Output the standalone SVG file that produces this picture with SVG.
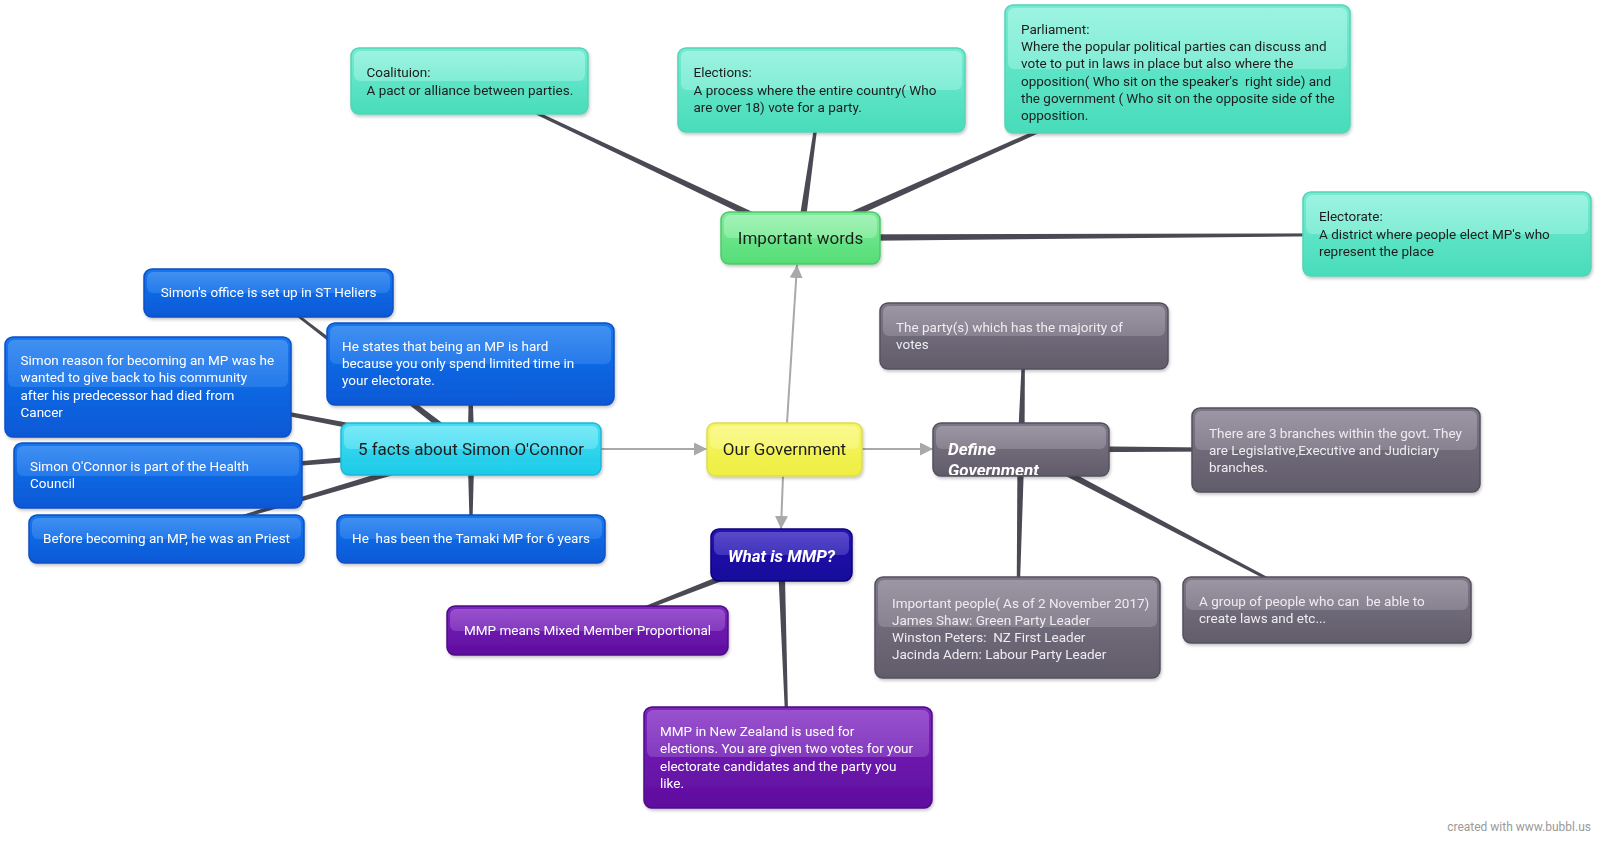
<svg xmlns="http://www.w3.org/2000/svg" width="1600" height="843" viewBox="0 0 1600 843">
<defs>
<style>
text{font-family:Roboto,"Liberation Sans",sans-serif;font-size:13.5px;white-space:pre}
.dk{fill:#1e1e1e}
.wt{fill:#ffffff}
.gy{fill:#eeecf1}
.ttl{font-size:17px}
.c{text-anchor:middle}
.bi{font-weight:bold;font-style:italic;font-size:17px;fill:#fff}
.edge{fill:#4a4954}
.arr{stroke:#a9a9a9;stroke-width:2;fill:none}
.gl{opacity:0.5}
</style>
<filter id="sh" x="-10%" y="-10%" width="120%" height="130%">
<feDropShadow dx="1" dy="2" stdDeviation="1.5" flood-color="#000" flood-opacity="0.22"/>
</filter>
<marker id="ah" markerUnits="userSpaceOnUse" markerWidth="14" markerHeight="14" refX="13" refY="6.5" orient="auto">
<path d="M0,0 L13,6.5 L0,13 z" fill="#a9a9a9"/>
</marker>
<linearGradient id="gTeal" x1="0" y1="0" x2="0" y2="1"><stop offset="0" stop-color="#74ecd2"/><stop offset="1" stop-color="#48dcbb"/></linearGradient>
<linearGradient id="hTeal" x1="0" y1="0" x2="0" y2="1"><stop offset="0" stop-color="#c4fbf0"/><stop offset="1" stop-color="#a6f5e4"/></linearGradient>
<linearGradient id="gGreen" x1="0" y1="0" x2="0" y2="1"><stop offset="0" stop-color="#7eec9a"/><stop offset="1" stop-color="#55dd77"/></linearGradient>
<linearGradient id="hGreen" x1="0" y1="0" x2="0" y2="1"><stop offset="0" stop-color="#c8fbd4"/><stop offset="1" stop-color="#a8f4ba"/></linearGradient>
<linearGradient id="gBlue" x1="0" y1="0" x2="0" y2="1"><stop offset="0" stop-color="#1677ee"/><stop offset="1" stop-color="#0a58d6"/></linearGradient>
<linearGradient id="hBlue" x1="0" y1="0" x2="0" y2="1"><stop offset="0" stop-color="#6aaaf6"/><stop offset="1" stop-color="#3c8cf2"/></linearGradient>
<linearGradient id="gCyan" x1="0" y1="0" x2="0" y2="1"><stop offset="0" stop-color="#45ddf3"/><stop offset="1" stop-color="#1ccbe8"/></linearGradient>
<linearGradient id="hCyan" x1="0" y1="0" x2="0" y2="1"><stop offset="0" stop-color="#aef6fd"/><stop offset="1" stop-color="#80edf9"/></linearGradient>
<linearGradient id="gYel" x1="0" y1="0" x2="0" y2="1"><stop offset="0" stop-color="#f6f662"/><stop offset="1" stop-color="#eeee44"/></linearGradient>
<linearGradient id="hYel" x1="0" y1="0" x2="0" y2="1"><stop offset="0" stop-color="#fdfdbc"/><stop offset="1" stop-color="#fafa96"/></linearGradient>
<linearGradient id="gGray" x1="0" y1="0" x2="0" y2="1"><stop offset="0" stop-color="#7d7787"/><stop offset="1" stop-color="#615c6a"/></linearGradient>
<linearGradient id="hGray" x1="0" y1="0" x2="0" y2="1"><stop offset="0" stop-color="#bbb6c2"/><stop offset="1" stop-color="#9f99a8"/></linearGradient>
<linearGradient id="gNavy" x1="0" y1="0" x2="0" y2="1"><stop offset="0" stop-color="#2514b2"/><stop offset="1" stop-color="#16089a"/></linearGradient>
<linearGradient id="hNavy" x1="0" y1="0" x2="0" y2="1"><stop offset="0" stop-color="#8a80e2"/><stop offset="1" stop-color="#6257d2"/></linearGradient>
<linearGradient id="gPurp" x1="0" y1="0" x2="0" y2="1"><stop offset="0" stop-color="#7c26be"/><stop offset="1" stop-color="#5e0c9e"/></linearGradient>
<linearGradient id="hPurp" x1="0" y1="0" x2="0" y2="1"><stop offset="0" stop-color="#b77ede"/><stop offset="1" stop-color="#9a5bcf"/></linearGradient>
<clipPath id="clipDef"><rect x="935" y="425" width="172" height="50" rx="6"/></clipPath>
</defs>
<rect width="1600" height="843" fill="#ffffff"/>

<g id="connectors">
<polygon class="edge" points="801.5,234.8 469.4,80.1 468.6,81.9 798.5,241.2"/>
<polygon class="edge" points="803.5,238.5 822,90.1 820,89.9 796.5,237.5"/>
<polygon class="edge" points="801.4,241.2 1177.4,69.9 1176.6,68.1 798.6,234.8"/>
<polygon class="edge" points="800,241.5 1447,235 1447,233 800,234.5"/>
<polygon class="edge" points="473.1,446.2 269.1,292.2 267.9,293.8 468.9,451.8"/>
<polygon class="edge" points="474.5,449 471.5,364 469.5,364 467.5,449"/>
<polygon class="edge" points="471.7,445.6 148.2,386 147.8,388 470.3,452.4"/>
<polygon class="edge" points="470.7,445.5 157.9,474.5 158.1,476.5 471.3,452.5"/>
<polygon class="edge" points="470,445.6 166.2,538 166.8,540 472,452.4"/>
<polygon class="edge" points="474.5,449 472,539 470,539 467.5,449"/>
<polygon class="edge" points="1017.5,449 1023,336 1025,336 1024.5,449"/>
<polygon class="edge" points="1021,445.5 1336,449 1336,451 1021,452.5"/>
<polygon class="edge" points="1017.5,449 1016.5,627.5 1018.5,627.5 1024.5,449"/>
<polygon class="edge" points="1019.4,452.1 1326.5,610.9 1327.5,609.1 1022.6,445.9"/>
<polygon class="edge" points="779.7,551.7 587.1,629.6 587.9,631.4 782.3,558.3"/>
<polygon class="edge" points="777.5,555 787,757 789,757 784.5,555"/>
<line class="arr" x1="601" y1="449" x2="707" y2="449" marker-end="url(#ah)"/>
<line class="arr" x1="787" y1="423" x2="797" y2="265" marker-end="url(#ah)"/>
<line class="arr" x1="862" y1="449" x2="933" y2="449" marker-end="url(#ah)"/>
<line class="arr" x1="783" y1="476" x2="781" y2="529" marker-end="url(#ah)"/>
</g>

<g id="node-coalition" filter="url(#sh)">
<rect x="351" y="48" width="237" height="66" rx="8" fill="url(#gTeal)" stroke="#55d3b5" stroke-width="1.5"/>
<rect x="354" y="51" width="231" height="30" rx="6" fill="url(#hTeal)" class="gl"/>
<text class="dk"><tspan x="366.5" y="77">Coalituion:</tspan><tspan x="366.5" y="95">A pact or alliance between parties.</tspan></text>
</g>
<g id="node-elections" filter="url(#sh)">
<rect x="678" y="48" width="287" height="84" rx="8" fill="url(#gTeal)" stroke="#55d3b5" stroke-width="1.5"/>
<rect x="681" y="51" width="281" height="39" rx="6" fill="url(#hTeal)" class="gl"/>
<text class="dk"><tspan x="693.5" y="77">Elections:</tspan><tspan x="693.5" y="95">A process where the entire country( Who</tspan><tspan x="693.5" y="112">are over 18) vote for a party.</tspan></text>
</g>
<g id="node-parliament" filter="url(#sh)">
<rect x="1005" y="5" width="345" height="128" rx="8" fill="url(#gTeal)" stroke="#55d3b5" stroke-width="1.5"/>
<rect x="1008" y="8" width="339" height="61" rx="6" fill="url(#hTeal)" class="gl"/>
<text class="dk"><tspan x="1021" y="34">Parliament:</tspan><tspan x="1021" y="51">Where the popular political parties can discuss and</tspan><tspan x="1021" y="68">vote to put in laws in place but also where the</tspan><tspan x="1021" y="86">opposition( Who sit on the speaker's  right side) and</tspan><tspan x="1021" y="103">the government ( Who sit on the opposite side of the</tspan><tspan x="1021" y="120">opposition.</tspan></text>
</g>
<g id="node-electorate" filter="url(#sh)">
<rect x="1303" y="192" width="288" height="84" rx="8" fill="url(#gTeal)" stroke="#55d3b5" stroke-width="1.5"/>
<rect x="1306" y="195" width="282" height="39" rx="6" fill="url(#hTeal)" class="gl"/>
<text class="dk"><tspan x="1319" y="221">Electorate:</tspan><tspan x="1319" y="239">A district where people elect MP's who</tspan><tspan x="1319" y="256">represent the place</tspan></text>
</g>
<g id="node-important-words" filter="url(#sh)">
<rect x="721" y="212" width="159" height="52" rx="8" fill="url(#gGreen)" stroke="#4fc86c" stroke-width="1.5"/>
<rect x="724" y="215" width="153" height="23" rx="6" fill="url(#hGreen)" class="gl"/>
<text class="dk ttl c" x="800.5" y="244">Important words</text>
</g>

<g id="node-office" filter="url(#sh)">
<rect x="144" y="269" width="249" height="48" rx="8" fill="url(#gBlue)" stroke="#0a4fc4" stroke-width="1.5"/>
<rect x="147" y="272" width="243" height="21" rx="6" fill="url(#hBlue)" class="gl"/>
<text class="wt c" x="268.5" y="297">Simon's office is set up in ST Heliers</text>
</g>
<g id="node-states" filter="url(#sh)">
<rect x="327" y="323" width="287" height="82" rx="8" fill="url(#gBlue)" stroke="#0a4fc4" stroke-width="1.5"/>
<rect x="330" y="326" width="281" height="38" rx="6" fill="url(#hBlue)" class="gl"/>
<text class="wt"><tspan x="342" y="351">He states that being an MP is hard</tspan><tspan x="342" y="368">because you only spend limited time in</tspan><tspan x="342" y="385">your electorate.</tspan></text>
</g>
<g id="node-reason" filter="url(#sh)">
<rect x="5" y="337" width="286" height="100" rx="8" fill="url(#gBlue)" stroke="#0a4fc4" stroke-width="1.5"/>
<rect x="8" y="340" width="280" height="47" rx="6" fill="url(#hBlue)" class="gl"/>
<text class="wt"><tspan x="20.5" y="365">Simon reason for becoming an MP was he</tspan><tspan x="20.5" y="382">wanted to give back to his community</tspan><tspan x="20.5" y="400">after his predecessor had died from</tspan><tspan x="20.5" y="417">Cancer</tspan></text>
</g>
<g id="node-facts" filter="url(#sh)">
<rect x="341" y="423" width="260" height="52" rx="8" fill="url(#gCyan)" stroke="#20b6d6" stroke-width="1.5"/>
<rect x="344" y="426" width="254" height="23" rx="6" fill="url(#hCyan)" class="gl"/>
<text class="dk ttl c" x="471" y="455">5 facts about Simon O'Connor</text>
</g>
<g id="node-health" filter="url(#sh)">
<rect x="14" y="443" width="288" height="65" rx="8" fill="url(#gBlue)" stroke="#0a4fc4" stroke-width="1.5"/>
<rect x="17" y="446" width="282" height="30" rx="6" fill="url(#hBlue)" class="gl"/>
<text class="wt"><tspan x="30" y="471">Simon O'Connor is part of the Health</tspan><tspan x="30" y="488">Council</tspan></text>
</g>
<g id="node-before" filter="url(#sh)">
<rect x="29" y="515" width="275" height="48" rx="8" fill="url(#gBlue)" stroke="#0a4fc4" stroke-width="1.5"/>
<rect x="32" y="518" width="269" height="21" rx="6" fill="url(#hBlue)" class="gl"/>
<text class="wt c" x="166.5" y="543">Before becoming an MP, he was an Priest</text>
</g>
<g id="node-tamaki" filter="url(#sh)">
<rect x="337" y="515" width="268" height="48" rx="8" fill="url(#gBlue)" stroke="#0a4fc4" stroke-width="1.5"/>
<rect x="340" y="518" width="262" height="21" rx="6" fill="url(#hBlue)" class="gl"/>
<text class="wt c" x="471" y="543">He  has been the Tamaki MP for 6 years</text>
</g>

<g id="node-our-government" filter="url(#sh)">
<rect x="707" y="423" width="155" height="53" rx="8" fill="url(#gYel)" stroke="#dcdc5c" stroke-width="1.5"/>
<rect x="710" y="426" width="149" height="23" rx="6" fill="url(#hYel)" class="gl"/>
<text class="dk ttl c" x="784.5" y="455">Our Government</text>
</g>

<g id="node-define" filter="url(#sh)">
<rect x="933" y="423" width="176" height="53" rx="8" fill="url(#gGray)" stroke="#55505d" stroke-width="1.5"/>
<rect x="936" y="426" width="170" height="23" rx="6" fill="url(#hGray)" class="gl"/>
<text class="bi" clip-path="url(#clipDef)"><tspan x="948" y="455">Define</tspan><tspan x="948" y="476">Government</tspan></text>
</g>
<g id="node-party" filter="url(#sh)">
<rect x="880" y="303" width="288" height="66" rx="8" fill="url(#gGray)" stroke="#55505d" stroke-width="1.5"/>
<rect x="883" y="306" width="282" height="30" rx="6" fill="url(#hGray)" class="gl"/>
<text class="gy"><tspan x="896" y="332">The party(s) which has the majority of</tspan><tspan x="896" y="349">votes</tspan></text>
</g>
<g id="node-branches" filter="url(#sh)">
<rect x="1192" y="408" width="288" height="84" rx="8" fill="url(#gGray)" stroke="#55505d" stroke-width="1.5"/>
<rect x="1195" y="411" width="282" height="39" rx="6" fill="url(#hGray)" class="gl"/>
<text class="gy"><tspan x="1209" y="438">There are 3 branches within the govt. They</tspan><tspan x="1209" y="455">are Legislative,Executive and Judiciary</tspan><tspan x="1209" y="472">branches.</tspan></text>
</g>
<g id="node-group" filter="url(#sh)">
<rect x="1183" y="577" width="288" height="66" rx="8" fill="url(#gGray)" stroke="#55505d" stroke-width="1.5"/>
<rect x="1186" y="580" width="282" height="30" rx="6" fill="url(#hGray)" class="gl"/>
<text class="gy"><tspan x="1199" y="606">A group of people who can  be able to</tspan><tspan x="1199" y="623">create laws and etc...</tspan></text>
</g>
<g id="node-people" filter="url(#sh)">
<rect x="875" y="577" width="285" height="101" rx="8" fill="url(#gGray)" stroke="#55505d" stroke-width="1.5"/>
<rect x="878" y="580" width="279" height="47" rx="6" fill="url(#hGray)" class="gl"/>
<text class="gy"><tspan x="892" y="608">Important people( As of 2 November 2017)</tspan><tspan x="892" y="625">James Shaw: Green Party Leader</tspan><tspan x="892" y="642">Winston Peters:  NZ First Leader</tspan><tspan x="892" y="659">Jacinda Adern: Labour Party Leader</tspan></text>
</g>

<g id="node-what-mmp" filter="url(#sh)">
<rect x="711" y="529" width="141" height="52" rx="8" fill="url(#gNavy)" stroke="#0f0578" stroke-width="1.5"/>
<rect x="714" y="532" width="135" height="23" rx="6" fill="url(#hNavy)" class="gl"/>
<text class="bi c" x="781.5" y="562">What is MMP?</text>
</g>
<g id="node-mmp-means" filter="url(#sh)">
<rect x="447" y="606" width="281" height="49" rx="8" fill="url(#gPurp)" stroke="#4c0a86" stroke-width="1.5"/>
<rect x="450" y="609" width="275" height="22" rx="6" fill="url(#hPurp)" class="gl"/>
<text class="wt c" x="587.5" y="635">MMP means Mixed Member Proportional</text>
</g>
<g id="node-mmp-nz" filter="url(#sh)">
<rect x="644" y="707" width="288" height="101" rx="8" fill="url(#gPurp)" stroke="#4c0a86" stroke-width="1.5"/>
<rect x="647" y="710" width="282" height="47" rx="6" fill="url(#hPurp)" class="gl"/>
<text class="wt"><tspan x="660" y="736">MMP in New Zealand is used for</tspan><tspan x="660" y="753">elections. You are given two votes for your</tspan><tspan x="660" y="771">electorate candidates and the party you</tspan><tspan x="660" y="788">like.</tspan></text>
</g>

<text x="1591" y="831" style="font-size:12px;fill:#9a9a9a;text-anchor:end">created with www.bubbl.us</text>
</svg>
